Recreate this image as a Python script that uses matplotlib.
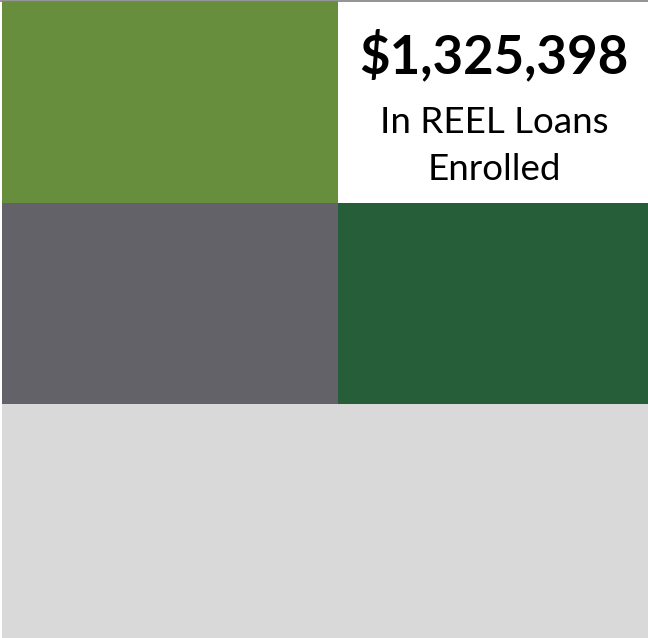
import matplotlib.pyplot as plt

# tiles in rows (top to bottom), values are relative areas
row_names = [["Tile A", "REEL Loans"], ["Tile C", "Tile D"], ["Tile E"]]
row_values = [[337 * 202, 310 * 202], [336 * 201, 310 * 201], [646 * 234]]
row_colors = [["#678e3d", "#ffffff"], ["#636268", "#255e38"], ["#d9d9d9"]]

headline = "$1,325,398"
caption = ["In REEL Loans", "Enrolled"]

W, H = 646, 637
total = sum(sum(r) for r in row_values)

fig = plt.figure(figsize=(6.48, 6.38), dpi=100)
ax = fig.add_axes([2 / 648, 0, 646 / 648, 637 / 638])
ax.set_xlim(0, W)
ax.set_ylim(H, 0)
ax.axis("off")

y = 0
for names, vals, cols in zip(row_names, row_values, row_colors):
    h = H * sum(vals) / total
    x = 0
    for name, v, c in zip(names, vals, cols):
        w = W * v / sum(vals)
        ax.bar(x, h, width=w, bottom=y, align="edge", color=c, linewidth=0)
        if name == "REEL Loans":
            cx = x + w / 2 + 1
            ax.text(cx, y + 72, headline, ha="center", va="baseline",
                    fontsize=38, fontweight="bold", family="Lato")
            ax.text(cx, y + 132, caption[0], ha="center", va="baseline",
                    fontsize=26.5, family="Lato")
            ax.text(cx, y + 179, caption[1], ha="center", va="baseline",
                    fontsize=26.5, family="Lato")
        x += w
    y += h

fig.add_artist(plt.Line2D([0, 1], [1 - 0.5 / 638, 1 - 0.5 / 638],
                          color="#808080", linewidth=1.2))

fig.savefig("out.png", dpi=100)
